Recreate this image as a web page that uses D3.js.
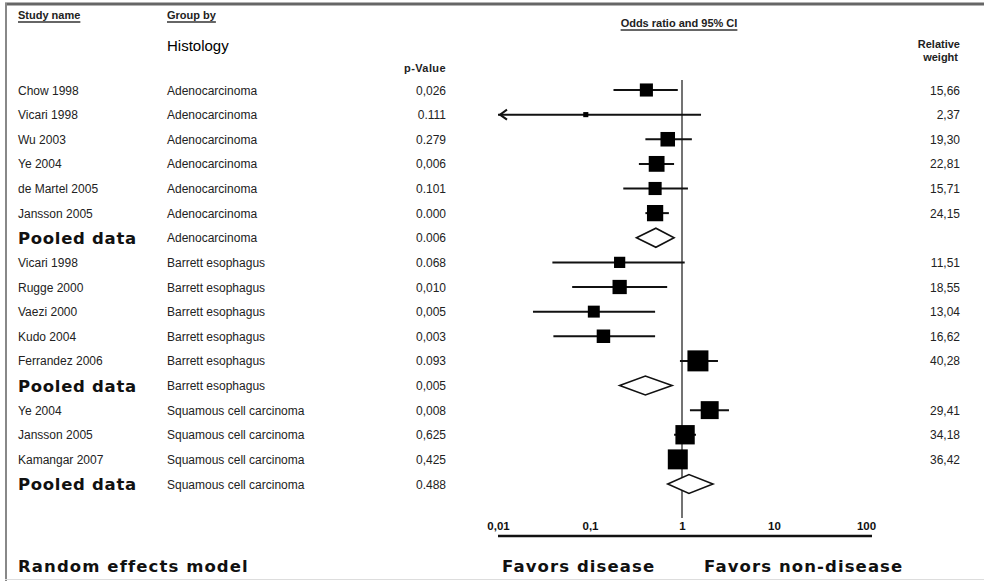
<!DOCTYPE html>
<html>
<head>
<meta charset="utf-8">
<script src="https://cdn.jsdelivr.net/npm/d3@7"></script>
<style>
  body { margin: 0; background: #fff; }
  svg { display: block; font-family: "Liberation Sans", Arial, sans-serif; }
  .cell { font-size: 12px; fill: #222; }
  .head { font-size: 11px; font-weight: bold; fill: #222; }
  .pooled, .big { font-family: "DejaVu Sans", sans-serif; font-size: 16.5px; font-weight: bold; fill: #111; letter-spacing: 0.7px; }
  .big { letter-spacing: 1.1px; }
</style>
</head>
<body>
<svg></svg>
<script>
const studies = ["Chow 1998", "Vicari 1998", "Wu 2003", "Ye 2004", "de Martel 2005", "Jansson 2005", "Pooled data",
    "Vicari 1998", "Rugge 2000", "Vaezi 2000", "Kudo 2004", "Ferrandez 2006", "Pooled data",
    "Ye 2004", "Jansson 2005", "Kamangar 2007", "Pooled data"],
  groups = ["Adenocarcinoma", "Adenocarcinoma", "Adenocarcinoma", "Adenocarcinoma", "Adenocarcinoma", "Adenocarcinoma", "Adenocarcinoma",
    "Barrett esophagus", "Barrett esophagus", "Barrett esophagus", "Barrett esophagus", "Barrett esophagus", "Barrett esophagus",
    "Squamous cell carcinoma", "Squamous cell carcinoma", "Squamous cell carcinoma", "Squamous cell carcinoma"],
  pValues = ["0,026", "0.111", "0.279", "0,006", "0.101", "0.000", "0.006",
    "0.068", "0,010", "0,005", "0,003", "0.093", "0,005",
    "0,008", "0,625", "0,425", "0.488"],
  weights = ["15,66", "2,37", "19,30", "22,81", "15,71", "24,15", "",
    "11,51", "18,55", "13,04", "16,62", "40,28", "",
    "29,41", "34,18", "36,42", ""],
  oddsRatio = [0.41, 0.09, 0.70, 0.53, 0.51, 0.51, 0.52,
    0.21, 0.21, 0.11, 0.14, 1.49, 0.40,
    2.0, 1.08, 0.90, 1.19],
  ciLower = [0.18, 0.005, 0.40, 0.34, 0.23, 0.40, 0.32,
    0.039, 0.064, 0.024, 0.04, 0.95, 0.21,
    1.22, 0.82, 0.80, 0.70],
  ciUpper = [0.90, 1.61, 1.28, 0.82, 1.16, 0.72, 0.82,
    1.07, 0.69, 0.51, 0.51, 2.46, 0.78,
    3.24, 1.42, 1.0, 2.17],
  tickValues = [0.01, 0.1, 1, 10, 100],
  tickLabels = ["0,01", "0,1", "1", "10", "100"];

const W = 984, H = 581,
  col = { study: 18, group: 167, p: 446, weight: 960 };

const svg = d3.select("svg").attr("width", W).attr("height", H);

const rows = d3.range(studies.length);
const x = d3.scaleLog().domain([0.01, 100]).range([498, 866]);
const y = d3.scalePoint().domain(rows).range([90, 484]);
const size = d3.scaleSqrt().domain([0, 40.28]).range([0, 21]);
const num = s => +s.replace(",", ".");

// frame
svg.append("line").attr("x1", 5).attr("x2", W).attr("y1", 4).attr("y2", 4)
  .attr("stroke", "#666").attr("stroke-width", 3);
svg.append("line").attr("x1", 6).attr("x2", 6).attr("y1", 3).attr("y2", H)
  .attr("stroke", "#888").attr("stroke-width", 2);
svg.append("line").attr("x1", 5).attr("x2", W).attr("y1", 579.5).attr("y2", 579.5)
  .attr("stroke", "#ddd").attr("stroke-width", 1);

// headers
function underlined(txt, xPos, yPos, anchor) {
  const t = svg.append("text").attr("class", "head")
    .attr("x", xPos).attr("y", yPos).attr("text-anchor", anchor).text(txt);
  const len = t.node().getComputedTextLength(),
    x0 = anchor === "middle" ? xPos - len / 2 : xPos;
  svg.append("line").attr("x1", x0).attr("x2", x0 + len)
    .attr("y1", yPos + 3).attr("y2", yPos + 3)
    .attr("stroke", "#333").attr("stroke-width", 1.3);
}
underlined("Study name", col.study, 19, "start");
underlined("Group by", col.group, 19, "start");
underlined("Odds ratio and 95% CI", 679, 27, "middle");

svg.append("text").attr("x", col.group).attr("y", 51)
  .attr("font-size", "15px").attr("fill", "#000").text("Histology");
svg.append("text").attr("class", "head").attr("x", col.p).attr("y", 72)
  .attr("text-anchor", "end").attr("font-size", "12px").attr("letter-spacing", "0.4px").text("p-Value");
svg.append("text").attr("class", "head").attr("x", col.weight).attr("y", 48)
  .attr("text-anchor", "end").text("Relative");
svg.append("text").attr("class", "head").attr("x", col.weight - 2).attr("y", 61)
  .attr("text-anchor", "end").text("weight");

// table columns
const isPooled = i => studies[i] === "Pooled data";
const rowG = svg.append("g").selectAll("g").data(rows).join("g")
  .attr("transform", i => "translate(0," + y(i) + ")");

rowG.append("text")
  .attr("class", i => isPooled(i) ? "pooled" : "cell")
  .attr("x", col.study).attr("y", i => isPooled(i) ? 6 : 4.5)
  .text(i => studies[i]);
rowG.append("text").attr("class", "cell").attr("x", col.group).attr("y", 4.5)
  .text(i => groups[i]);
rowG.append("text").attr("class", "cell").attr("x", col.p).attr("y", 4.5)
  .attr("text-anchor", "end").text(i => pValues[i]);
rowG.append("text").attr("class", "cell").attr("x", col.weight).attr("y", 4.5)
  .attr("text-anchor", "end").text(i => weights[i]);

// line of no effect
svg.append("line").attr("x1", x(1)).attr("x2", x(1)).attr("y1", 80).attr("y2", 518)
  .attr("stroke", "#444").attr("stroke-width", 1.5);

// confidence intervals
const studyRows = rows.filter(i => !isPooled(i));
const lo = i => Math.max(ciLower[i], 0.01);
svg.append("g").selectAll("line").data(studyRows).join("line")
  .attr("x1", i => x(lo(i))).attr("x2", i => x(ciUpper[i]))
  .attr("y1", i => y(i)).attr("y2", i => y(i))
  .attr("stroke", "#111").attr("stroke-width", 2);

// arrows where the interval runs off the axis
svg.append("g").selectAll("path").data(studyRows.filter(i => ciLower[i] < 0.01)).join("path")
  .attr("d", i => {
    const x0 = x(0.01) + 2, y0 = y(i);
    return "M" + (x0 + 7) + "," + (y0 - 5) + "L" + x0 + "," + y0 + "L" + (x0 + 7) + "," + (y0 + 5);
  })
  .attr("fill", "none").attr("stroke", "#111").attr("stroke-width", 2);

// study squares
svg.append("g").selectAll("rect").data(studyRows).join("rect")
  .attr("x", i => x(oddsRatio[i]) - size(num(weights[i])) / 2)
  .attr("y", i => y(i) - size(num(weights[i])) / 2)
  .attr("width", i => size(num(weights[i])))
  .attr("height", i => size(num(weights[i])))
  .attr("fill", "#000");

// pooled diamonds
svg.append("g").selectAll("path").data(rows.filter(isPooled)).join("path")
  .attr("d", i => {
    const yy = y(i), h = 9.5;
    return "M" + x(ciLower[i]) + "," + yy + "L" + x(oddsRatio[i]) + "," + (yy - h) +
      "L" + x(ciUpper[i]) + "," + yy + "L" + x(oddsRatio[i]) + "," + (yy + h) + "Z";
  })
  .attr("fill", "#fff").attr("stroke", "#111").attr("stroke-width", 1.6);

// axis
const axis = d3.axisTop(x).tickValues(tickValues)
  .tickFormat((d, i) => tickLabels[i]).tickSize(0).tickPadding(6);
const axisG = svg.append("g").attr("transform", "translate(0,536)").call(axis);
axisG.select(".domain").remove();
axisG.selectAll("text").attr("font-size", "11.5px").attr("font-weight", "bold")
  .attr("font-family", "Liberation Sans, Arial, sans-serif").attr("fill", "#111");
svg.append("line").attr("x1", 498).attr("x2", 872).attr("y1", 536).attr("y2", 536)
  .attr("stroke", "#111").attr("stroke-width", 2.5);

// footer labels
svg.append("text").attr("class", "big").attr("x", 18).attr("y", 572).text("Random effects model");
svg.append("text").attr("class", "big").attr("x", 502).attr("y", 572).text("Favors disease");
svg.append("text").attr("class", "big").attr("x", 704).attr("y", 572).text("Favors non-disease");
</script>
</body>
</html>
